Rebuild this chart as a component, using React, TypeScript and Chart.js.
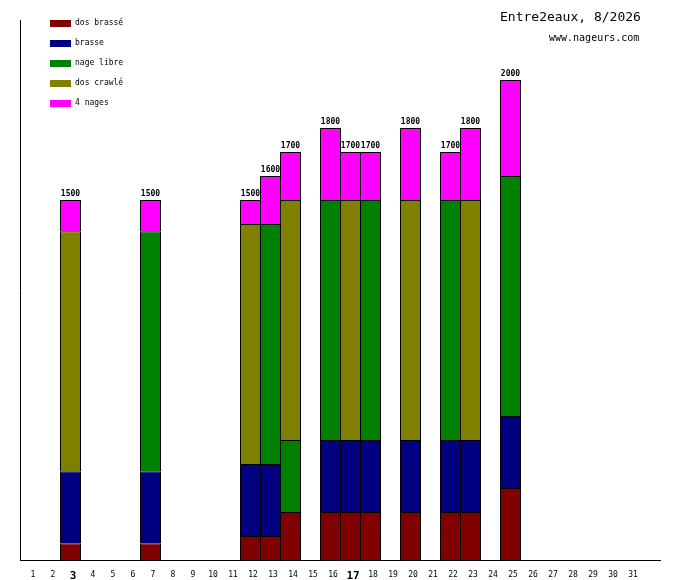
import { useEffect, useRef } from "react";
import Chart, { ChartConfiguration, Plugin } from "chart.js/auto";

// jours du mois (31) + une case vide en fin d'axe
const days = [
  "1", "2", "3", "4", "5", "6", "7", "8", "9", "10", "11", "12", "13", "14", "15", "16",
  "17", "18", "19", "20", "21", "22", "23", "24", "25", "26", "27", "28", "29", "30", "31", "",
];
const boldDays = ["3", "17"];

//                  1  2   3  4  5  6   7  8  9 10 11   12   13   14 15   16   17   18 19   20 21   22   23 24   25 26..31
const dosBrasse =  [0, 0,  70, 0, 0, 0,  70, 0, 0, 0, 0, 100, 100, 200, 0, 200, 200, 200, 0, 200, 0, 200, 200, 0, 300, 0, 0, 0, 0, 0, 0];
const brasse =     [0, 0, 300, 0, 0, 0, 300, 0, 0, 0, 0, 300, 300,   0, 0, 300, 300, 300, 0, 300, 0, 300, 300, 0, 300, 0, 0, 0, 0, 0, 0];
const nageLibre =  [0, 0,   0, 0, 0, 0,1000, 0, 0, 0, 0,   0,1000, 300, 0,1000,   0,1000, 0,   0, 0,1000,   0, 0,1000, 0, 0, 0, 0, 0, 0];
const dosCrawle =  [0, 0,1000, 0, 0, 0,   0, 0, 0, 0, 0,1000,   0,1000, 0,   0,1000,   0, 0,1000, 0,   0,1000, 0,   0, 0, 0, 0, 0, 0, 0];
const quatreNages =[0, 0, 130, 0, 0, 0, 130, 0, 0, 0, 0, 100, 200, 200, 0, 300, 200, 200, 0, 300, 0, 200, 300, 0, 400, 0, 0, 0, 0, 0, 0];

const seriesNames = ["dos brassé", "brasse", "nage libre", "dos crawlé", "4 nages"];
const seriesColors = ["#800000", "#000080", "#008000", "#808000", "#ff00ff"];
const series = [dosBrasse, brasse, nageLibre, dosCrawle, quatreNages];

const title = "Entre2eaux, 8/2026";
const subtitle = "www.nageurs.com";

const MONO = "'DejaVu Sans Mono', monospace";

// legende, titre et totaux au-dessus des barres
const extras: Plugin<"bar"> = {
  id: "extras",
  afterDraw(chart) {
    const ctx = chart.ctx;
    ctx.save();

    // legende en haut a gauche
    ctx.font = `8px ${MONO}`;
    ctx.textAlign = "left";
    ctx.textBaseline = "middle";
    chart.data.datasets.forEach((ds, i) => {
      const y = 20 + i * 20;
      ctx.fillStyle = ds.backgroundColor as string;
      ctx.fillRect(50, y, 21, 7);
      ctx.fillStyle = "#000";
      ctx.fillText(ds.label ?? "", 75, y + 3);
    });

    // titre
    ctx.font = `13px ${MONO}`;
    ctx.fillText(title, 500, 18);
    ctx.font = `10px ${MONO}`;
    ctx.fillText(subtitle, 549, 38);

    // totaux
    const yScale = chart.scales.y;
    ctx.font = `bold 8px ${MONO}`;
    ctx.textAlign = "center";
    ctx.textBaseline = "bottom";
    for (let i = 0; i < dosBrasse.length; i++) {
      const total = series.reduce((s, arr) => s + (arr[i] || 0), 0);
      if (!total) continue;
      const x = chart.scales.x.getPixelForValue(i);
      ctx.fillText(String(total), x, yScale.getPixelForValue(total) - 2);
    }
    ctx.restore();
  },
};

const App = () => {
  const chartRef = useRef<HTMLCanvasElement | null>(null);
  const chartInstance = useRef<Chart | null>(null);

  useEffect(() => {
    if (!chartRef.current) return;
    if (chartInstance.current) chartInstance.current.destroy();
    const ctx = chartRef.current.getContext("2d");
    if (!ctx) return;

    const config: ChartConfiguration<"bar"> = {
      type: "bar",
      data: {
        labels: days,
        datasets: series.map((arr, i) => ({
          label: seriesNames[i],
          data: arr.map((v) => (v ? v : null)) as (number | null)[],
          backgroundColor: seriesColors[i],
          borderColor: "#000",
          borderWidth: 1,
          barPercentage: 1.05,
          categoryPercentage: 1,
          inflateAmount: 0,
        })),
      },
      options: {
        responsive: false,
        animation: false,
        devicePixelRatio: 1,
        layout: { padding: { left: 20.5, top: 20, right: 19.5, bottom: 0 } },
        plugins: {
          legend: { display: false },
          tooltip: { enabled: false },
          title: { display: false },
        },
        scales: {
          x: {
            stacked: true,
            grid: { display: false, drawTicks: false },
            border: { display: true, color: "#000", width: 1 },
            ticks: {
              color: "#000",
              padding: 10,
              labelOffset: 2.5,
              maxRotation: 0,
              autoSkip: false,
              font: (c: any) =>
                boldDays.includes(days[c.index])
                  ? { family: MONO, size: 11, weight: "bold" }
                  : { family: MONO, size: 8 },
            },
            afterFit: (scale: any) => {
              scale.height = 20;
            },
          },
          y: {
            stacked: true,
            min: 0,
            max: 2250,
            grid: { display: false, drawTicks: false },
            border: { display: true, color: "#000", width: 1 },
            ticks: { display: false },
            afterFit: (scale: any) => {
              scale.width = 0;
            },
          },
        },
      },
      plugins: [extras],
    };

    chartInstance.current = new Chart(ctx, config);
    return () => {
      chartInstance.current?.destroy();
    };
  }, []);

  return (
    <div style={{ position: "absolute", left: 0, top: 0, width: 680, height: 580, background: "#fff" }}>
      <canvas ref={chartRef} width={680} height={580} />
    </div>
  );
};

export default App;
